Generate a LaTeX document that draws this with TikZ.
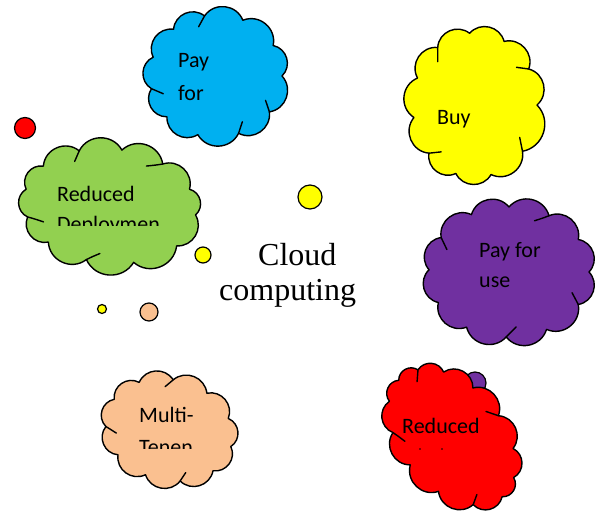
\documentclass[tikz,border=0pt]{standalone}
\usepackage{fontspec}
\setmainfont{Liberation Serif}
\newfontfamily\calfont{Carlito}
\definecolor{cblue}{HTML}{00B0F0}
\definecolor{cgreen}{HTML}{92D050}
\definecolor{cyellow}{HTML}{FFFF00}
\definecolor{cpurple}{HTML}{7030A0}
\definecolor{cpeach}{HTML}{FAC090}
\definecolor{cred}{HTML}{FF0000}
% #1 centre, #2 a, #3 b, #4 rotation, #5 fill, #6 angle list, #7 name, #8 inner-stroke angles
\newcommand\cloudat[8]{%
  \begin{scope}[shift={#1}, x=1pt, y=1pt, rotate=#4]
    \coordinate (#7) at (0,0);
    \filldraw[cloudline, fill=#5] (0:#2 and #3)
      foreach \q in {#6} { to[bend right=62, looseness=1.15] (\q:#2 and #3) } -- cycle;
    \foreach \q in {#8} {
      \draw[cloudline] (\q:#2 and #3) .. controls ({\q+3}:{0.93*#2} and {0.93*#3}) .. ({\q+8}:{0.85*#2} and {0.85*#3});
    }
  \end{scope}}
\begin{document}
\begin{tikzpicture}[x=1pt,y=-1pt,
  cloudline/.style={draw=black, line width=1.4pt, line join=round, line cap=round},
  tail/.style={circle, draw=black, line width=1.2pt, inner sep=0pt},
  lab/.style={anchor=base west, inner sep=0pt, text=black, font=\calfont\fontsize{22}{26}\selectfont},
  big/.style={anchor=base west, inner sep=0pt, text=black, font=\fontsize{32}{38}\selectfont}]
\useasboundingbox (0,0) rectangle (597,514);
% tail circles
\node[tail, fill=cred, minimum size=21pt] (t1) at (25,128) {};
\node[tail, fill=cyellow, minimum size=24pt] (t2) at (310,197) {};
\node[tail, fill=cyellow, minimum size=16pt] (t3) at (203,255) {};
\node[tail, fill=cyellow, minimum size=9pt] (t4) at (102,309) {};
\node[tail, fill=cpeach, minimum size=18pt] (t5) at (149,312) {};
\node[tail, fill=cpurple, minimum size=22pt] (t6) at (475,383) {};
% clouds
\cloudat{(216,76)}{66}{61}{0}{cblue}{30,66,100,130,162,192,222,254,290,324,360}{c1}{100,192,290,324}
\cloudat{(110,206)}{86}{57}{-6}{cgreen}{26,56,86,115,145,172,200,228,258,290,325,360}{c2}{56,115,200,258}
\cloudat{(475,105)}{62}{72}{0}{cyellow}{30,62,95,127,158,190,222,252,285,320,360}{c3}{30,127,222,320}
\cloudat{(509,272)}{80}{65}{0}{cpurple}{30,60,90,118,148,178,208,238,268,298,330,360}{c4}{60,148,268,330}
\cloudat{(169,430)}{64}{50}{-15}{cpeach}{32,65,98,130,162,195,228,260,292,326,360}{c5}{98,195,292}
\cloudat{(452,437)}{78}{50}{-50}{cred}{25,52,80,108,135,160,185,210,238,266,295,327,360}{c6}{80,160,238,327}
% labels
\node[lab] (l1a) at (178,67) {Pay};
\node[lab] (l1b) at (178,100) {for};
\node[lab] (l2a) at (57,201) {Reduced};
\begin{scope}
  \clip (0,0) rectangle (300,225);
  \node[lab] (l2b) at (57,231) {Deploymen};
\end{scope}
\node[lab] (l3) at (437,124) {Buy};
\node[lab] (l4a) at (479,257) {Pay for};
\node[lab] (l4b) at (479,287) {use};
\node[lab] (l5a) at (139,422) {Multi-};
\begin{scope}
  \clip (0,300) rectangle (300,448);
  \node[lab] (l5b) at (139,454) {Tenen};
\end{scope}
\node[lab] (l6a) at (402,433) {Reduced};
\fill[black] (420,449) circle (0.9pt) (442,449) circle (0.9pt);
% centre text
\node[big] (m1) at (258,265) {Cloud};
\node[big] (m2) at (219,300) {computing};
\end{tikzpicture}
\end{document}
